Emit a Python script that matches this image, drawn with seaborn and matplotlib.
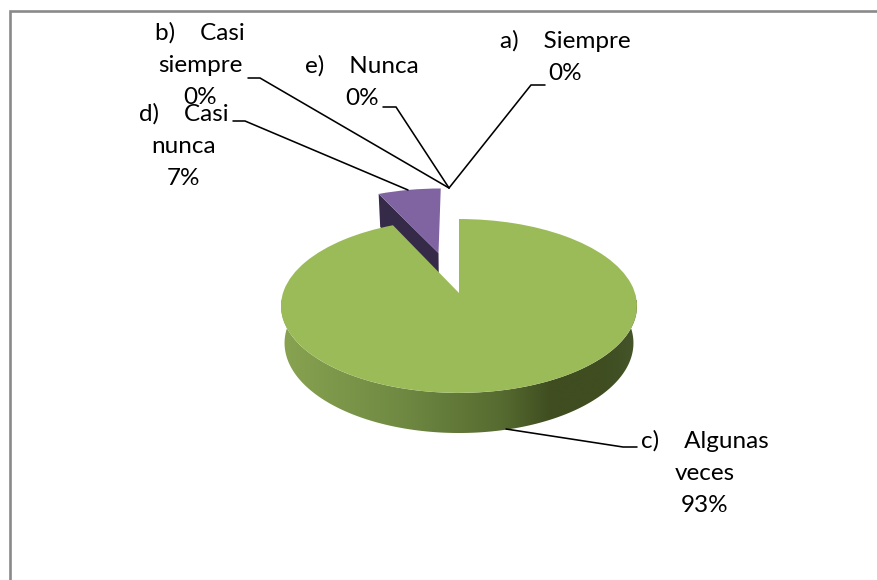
import numpy as np
import matplotlib
matplotlib.use("Agg")
import matplotlib.pyplot as plt
from matplotlib.colors import LinearSegmentedColormap
from matplotlib.patches import Polygon
from matplotlib.transforms import Transform
import seaborn as sns

# ---- data ----
categories = ["a)    Siempre", "b)    Casi\nsiempre", "c)    Algunas\nveces",
              "d)    Casi\nnunca", "e)    Nunca"]
values = [0, 0, 93, 7, 0]
explode = [0.518, 0.518, 0, 0.518, 0.518]
top_colors = ["#4f81bd", "#c0504d", "#9bbb59", "#8064a2", "#4bacc6"]

sns.set_theme(style="white")
plt.rcParams["font.family"] = ["Lato", "DejaVu Sans"]

fig = plt.figure(figsize=(8.77, 5.8), dpi=100, facecolor="white")
ax = fig.add_axes([0, 0, 1, 1])

# perspective of the pie's plane, in pixels of the figure
K = 0.149


class Plane(Transform):
    input_dims = output_dims = 2
    is_affine = False
    has_inverse = False

    def __init__(self, cx, cy, bx, ay):
        super().__init__()
        self.p = (cx, cy, bx, ay)

    def transform_non_affine(self, xy):
        xy = np.asarray(xy, float)
        cx, cy, bx, ay = self.p
        w = 1 + K * xy[:, 1]
        return np.column_stack([cx + bx * xy[:, 0] / w, cy - ay * xy[:, 1] / w])


top_plane = Plane(459, 293, 176, 85)
bottom_plane = Plane(459, 329.6, 172.5, 88)
slice_top_plane = Plane(457, 293, 176, 85)
slice_bottom_plane = Plane(457, 329.6, 172.5, 88)

wedges, _ = ax.pie(values, explode=explode, startangle=90, counterclock=False,
                   colors=sns.color_palette(top_colors), radius=1,
                   wedgeprops=dict(linewidth=0, zorder=5))
ax.set_aspect("auto")
ax.axis("on")
for w in wedges:
    w.set_transform(top_plane + ax.transData)
green, purple = wedges[2], wedges[3]
green.set_zorder(5)
purple.set_zorder(2)
purple.set_transform(slice_top_plane + ax.transData)

# dark inner wall of the exploded slice, along its far straight edge
pc = np.array(purple.center)
edge_angle = np.radians(max(purple.theta1, purple.theta2))
corner = pc + np.array([np.cos(edge_angle), np.sin(edge_angle)])
wall_top = slice_top_plane.transform(np.array([corner, pc]))
wall_bot = slice_bottom_plane.transform(np.array([pc, corner]))
ax.add_patch(Polygon(np.vstack([wall_top, wall_bot]), closed=True, fc="#352a47",
                     ec="none", zorder=1))

# curved side of the large slice, shaded from left to right
phi = np.radians(np.linspace(171.4, 368.6, 160))
circle = np.column_stack([np.cos(phi), np.sin(phi)])
side_top = top_plane.transform(circle)
side_bot = bottom_plane.transform(circle)[::-1]
side = Polygon(np.vstack([side_top, side_bot]), closed=True, fc="none", ec="none",
               transform=ax.transData)
ax.add_patch(side)
shade = LinearSegmentedColormap.from_list(
    "side", [(0.0, "#88a350"), (0.33, "#708a43"), (0.62, "#566b30"),
             (0.76, "#3f4d20"), (0.9, "#3f4d20"), (1.0, "#45552a")])
img = ax.imshow(np.linspace(0, 1, 256)[None, :], cmap=shade, aspect="auto",
                extent=(281, 637, 440, 300), zorder=3, interpolation="bilinear")
img.set_clip_path(side)

# frame
ax.plot([9.5, 9.5, 877], [580, 10.5, 10.5], color="#8a8a8a", lw=1.9, zorder=1,
        solid_joinstyle="miter")

# leader lines
leaders = [
    [(545, 85), (531, 85), (449, 188)],
    [(248, 78), (260, 78), (449, 188)],
    [(637, 447), (623, 447), (506, 429)],
    [(233, 121), (245, 121), (408, 190)],
    [(383, 107), (396, 107), (449, 188)],
]
for pts in leaders:
    xs, ys = zip(*pts)
    ax.plot(xs, ys, color="black", lw=1.15, zorder=6, solid_joinstyle="miter")

# labels
label_xy = [(565, 57), (200, 65), (705, 473), (184, 146), (362, 82)]
for cat, val, (lx, ly) in zip(categories, values, label_xy):
    ax.text(lx, ly, f"{cat}\n{val}%", ha="center", va="center", fontsize=17.5,
            color="black", linespacing=1.65, zorder=7, clip_on=False)

ax.set_xlim(0, 877)
ax.set_ylim(580, 0)
ax.set_xticks([])
ax.set_yticks([])
for s in ax.spines.values():
    s.set_visible(False)
ax.patch.set_alpha(0)

fig.savefig("out.png", dpi=100, facecolor="white")
